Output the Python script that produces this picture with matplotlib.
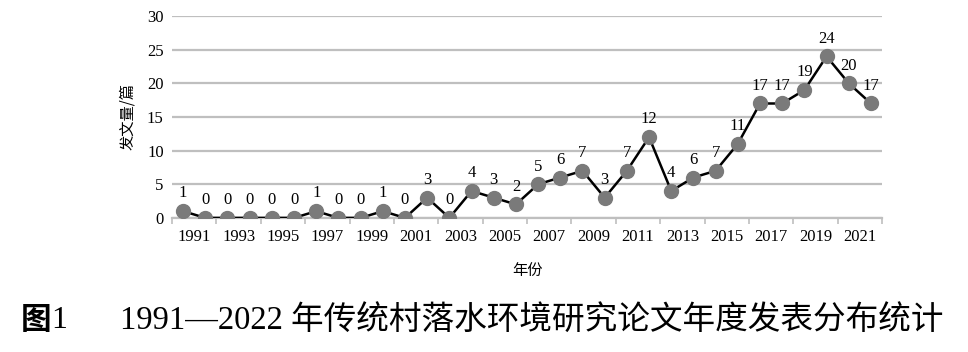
"""Annual count of papers on water environment of traditional villages, 1991-2022."""

import matplotlib
import matplotlib.pyplot as plt

matplotlib.use("Agg")

years = list(range(1991, 2023))
counts = [1, 0, 0, 0, 0, 0, 1, 0, 0, 1, 0, 3, 0, 4, 3, 2,
          5, 6, 7, 3, 7, 12, 4, 6, 7, 11, 17, 17, 19, 24, 20, 17]
y_ticks = [0, 5, 10, 15, 20, 25, 30]

SERIF = ["Liberation Serif", "Noto Sans CJK SC"]
CJK = ["Noto Sans CJK SC", "DejaVu Sans"]

fig = plt.figure(figsize=(9.68, 3.52), dpi=100)
ax = fig.add_axes([0.1777, 0.381, 0.7335, 0.5735])

xs = list(range(len(years)))
ax.plot(xs, counts, color="black", linewidth=1.8, zorder=3,
        marker="o", markersize=10, markerfacecolor="#7a7a7a",
        markeredgecolor="#7a7a7a")
for x, v in zip(xs, counts):
    ax.annotate(str(v), (x, v), xytext=(0, 7), textcoords="offset points",
                ha="center", va="bottom", fontsize=12, family=SERIF, zorder=4)

ax.set_xlim(-0.5, len(years) - 0.5)
ax.set_ylim(0, 30)
ax.set_yticks(y_ticks)
ax.set_yticklabels([str(t) for t in y_ticks], family=SERIF, fontsize=12)
ax.yaxis.grid(True, color="#bfbfbf", linewidth=1.6)
ax.set_axisbelow(True)

# tick marks at every second category boundary, labels centred on each pair
ax.set_xticks([i - 0.5 for i in range(0, len(years) + 1, 2)])
ax.set_xticklabels([])
ax.set_xticks([i + 0.5 for i in range(0, len(years), 2)], minor=True)
ax.set_xticklabels([str(years[i]) for i in range(0, len(years), 2)],
                   minor=True, family=SERIF, fontsize=12)
ax.tick_params(axis="x", which="major", length=4, color="#bfbfbf", width=1.2)
ax.tick_params(axis="x", which="minor", length=0, pad=8)
ax.tick_params(axis="y", length=0, pad=6)

for side in ("top", "right", "left"):
    ax.spines[side].set_visible(False)
ax.spines["bottom"].set_color("#bfbfbf")
ax.spines["bottom"].set_linewidth(1.6)

ax.set_ylabel("发文量/篇", family=CJK, fontsize=11, labelpad=8)
ax.set_xlabel("年份", family=CJK, fontsize=11, labelpad=12)

fig.text(0.021, 0.09, "图", family=CJK, fontsize=22, fontweight="bold",
         ha="left", va="center")
fig.text(0.053, 0.09, "1", family=SERIF, fontsize=23, ha="left", va="center")
fig.text(0.124, 0.09, "1991—2022 年传统村落水环境研究论文年度发表分布统计",
         family=SERIF, fontsize=23.5, ha="left", va="center")

fig.savefig("out.png", dpi=100)
plt.close(fig)
